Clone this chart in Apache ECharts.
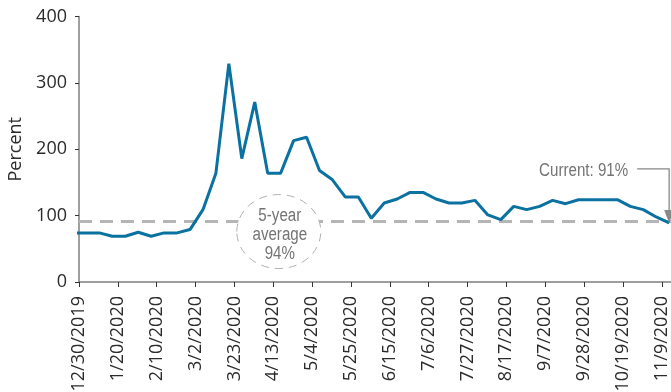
<!DOCTYPE html>
<html>
<head>
<meta charset="utf-8">
<script src="https://cdn.jsdelivr.net/npm/echarts@6/dist/echarts.min.js"></script>
<style>
  html, body { margin: 0; padding: 0; background: #fff; }
  #main { width: 671px; height: 392px; }
</style>
</head>
<body>
<div id="main"></div>
<script>
// weekly readings (Fridays), percent of 5-year average
const weekDates = ['12/27/2019', '1/3/2020', '1/10/2020', '1/17/2020', '1/24/2020', '1/31/2020', '2/7/2020', '2/14/2020',
  '2/21/2020', '2/28/2020', '3/6/2020', '3/13/2020', '3/20/2020', '3/27/2020', '4/3/2020', '4/10/2020', '4/17/2020',
  '4/24/2020', '5/1/2020', '5/8/2020', '5/15/2020', '5/22/2020', '5/29/2020', '6/5/2020', '6/12/2020', '6/19/2020',
  '6/26/2020', '7/3/2020', '7/10/2020', '7/17/2020', '7/24/2020', '7/31/2020', '8/7/2020', '8/14/2020', '8/21/2020',
  '8/28/2020', '9/4/2020', '9/11/2020', '9/18/2020', '9/25/2020', '10/2/2020', '10/9/2020', '10/16/2020', '10/23/2020',
  '10/30/2020', '11/6/2020', '11/13/2020'];
const percentValues = [74, 74, 74, 69, 69, 75, 69, 74, 74, 79, 109, 164, 329, 186, 271, 164, 164, 213, 218, 168,
  154, 128, 128, 96, 119, 125, 135, 135, 125, 119, 119, 123, 101, 94, 114, 109, 114, 123, 118, 124,
  124, 124, 124, 114, 109, 98, 89];
const tickDates = ['12/30/2019', '1/20/2020', '2/10/2020', '3/2/2020', '3/23/2020', '4/13/2020', '5/4/2020',
  '5/25/2020', '6/15/2020', '7/6/2020', '7/27/2020', '8/17/2020', '9/7/2020', '9/28/2020', '10/19/2020', '11/9/2020'];
const yTicks = [0, 100, 200, 300, 400];
const avgLevel = 92;
const avgText = '5-year\naverage\n94%';
const currentText = 'Current: 91%';

const startDay = '12/30/2019';
const dayOf = s => {
  const [m, d, y] = s.split('/').map(Number);
  const [m0, d0, y0] = startDay.split('/').map(Number);
  return Math.round((Date.UTC(y, m - 1, d) - Date.UTC(y0, m0 - 1, d0)) / 86400000);
};
const tickDays = tickDates.map(dayOf);
const labelOf = {};
tickDates.forEach((t, i) => { labelOf[tickDays[i]] = t; });

const tickFont = 'Open Sans';
const noteFont = 'Liberation Sans';
const axisGray = '#7f7f7f';

var chart = echarts.init(document.getElementById('main'));
var option = {
  animation: false,
  grid: { left: 79, right: 0, top: 16.5, bottom: 110, outerBoundsMode: 'none', containLabel: false },
  xAxis: {
    type: 'value',
    min: 0,
    max: 320,
    splitLine: { show: false },
    axisLine: { lineStyle: { color: axisGray, width: 1.5 } },
    axisTick: { show: true, length: 5, customValues: tickDays, lineStyle: { color: '#333' } },
    axisLabel: {
      customValues: tickDays,
      rotate: 90,
      margin: 14,
      fontFamily: tickFont,
      fontSize: 18,
      color: '#2b2b2b',
      formatter: v => labelOf[v] || ''
    }
  },
  yAxis: {
    type: 'value',
    min: 0,
    max: 400,
    interval: 100,
    name: 'Percent',
    nameLocation: 'middle',
    nameGap: 54,
    nameTextStyle: { fontFamily: tickFont, fontSize: 18, color: '#2b2b2b' },
    splitLine: { show: false },
    axisLine: { show: true, lineStyle: { color: axisGray, width: 1.5 } },
    axisTick: { show: true, length: 4, lineStyle: { color: '#333' } },
    axisLabel: {
      margin: 12,
      fontFamily: tickFont,
      fontSize: 18,
      color: '#2b2b2b',
      formatter: v => (yTicks.indexOf(v) >= 0 ? String(v) : '')
    }
  },
  series: [{
    type: 'line',
    data: weekDates.map((d, i) => [dayOf(d), percentValues[i]]),
    showSymbol: false,
    symbol: 'none',
    clip: true,
    lineStyle: { color: '#0a71a1', width: 3 },
    z: 3,
    markLine: {
      silent: true,
      symbol: 'none',
      label: { show: false },
      lineStyle: { color: '#b5b5b5', width: 3, type: [13, 8] },
      data: [{ yAxis: avgLevel }],
      z: 1
    }
  }]
};
chart.setOption(option);

// annotations, placed from data coordinates
const avgCenter = chart.convertToPixel({ gridIndex: 0 }, [108, 76]);
const lastPt = chart.convertToPixel({ gridIndex: 0 }, [dayOf(weekDates[weekDates.length - 1]), percentValues[percentValues.length - 1]]);
const noteGray = '#747474';

chart.setOption({
  graphic: [
    {
      type: 'ellipse',
      shape: { cx: avgCenter[0], cy: avgCenter[1], rx: 42, ry: 37 },
      style: { fill: '#fff', stroke: '#b0b0b0', lineWidth: 1, lineDash: [8, 6] },
      z: 10
    },
    {
      type: 'text',
      x: avgCenter[0] + 1,
      y: avgCenter[1] + 3,
      scaleX: 0.84,
      style: {
        text: avgText, align: 'center', verticalAlign: 'middle', lineHeight: 19,
        fontFamily: noteFont, fontSize: 18, fill: noteGray
      },
      z: 11
    },
    {
      type: 'text',
      x: lastPt[0] - 41,
      y: lastPt[1] - 52,
      scaleX: 0.84,
      style: {
        text: currentText, align: 'right', verticalAlign: 'middle',
        fontFamily: noteFont, fontSize: 18, fill: noteGray
      },
      z: 11
    },
    {
      type: 'polyline',
      shape: { points: [[lastPt[0] - 32, lastPt[1] - 54], [lastPt[0], lastPt[1] - 54], [lastPt[0], lastPt[1] - 11]] },
      style: { stroke: '#888', lineWidth: 1.3, fill: null },
      z: 11
    },
    {
      type: 'polygon',
      shape: { points: [[lastPt[0] - 5, lastPt[1] - 13], [lastPt[0] + 5, lastPt[1] - 13], [lastPt[0], lastPt[1]]] },
      style: { fill: '#888' },
      z: 11
    }
  ]
});
</script>
</body>
</html>
